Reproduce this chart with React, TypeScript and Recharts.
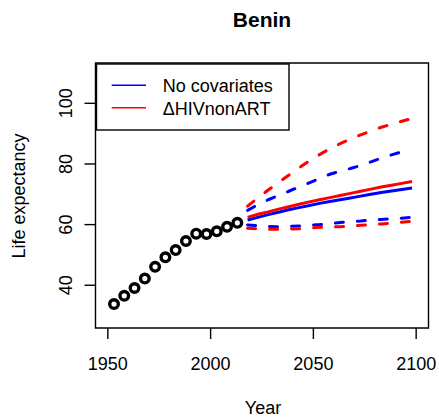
import React from 'react';
import { ComposedChart, Line, XAxis, YAxis, ReferenceArea, Customized } from 'recharts';

const FONT = '"Liberation Sans", Arial, Helvetica, sans-serif';

const obsYears = [1953, 1958, 1963, 1968, 1973, 1978, 1983, 1988, 1993, 1998, 2003, 2008, 2013];
const obsLE = [33.8, 36.5, 39.1, 42.2, 46.1, 49.2, 51.6, 54.6, 57.0, 56.9, 57.8, 59.3, 60.6];

const projYears = [2018, 2023, 2028, 2033, 2038, 2043, 2048, 2053, 2058, 2063, 2068, 2073, 2078, 2083, 2088, 2093, 2098];
const noCovMedian = [61.5, 62.4, 63.3, 64.1, 64.9, 65.6, 66.3, 67.0, 67.6, 68.2, 68.8, 69.4, 70.0, 70.6, 71.1, 71.6, 72.1];
const noCovLower = [59.9, 59.6, 59.4, 59.3, 59.4, 59.5, 59.8, 60.0, 60.3, 60.7, 61.0, 61.2, 61.5, 61.7, 61.9, 62.1, 62.4];
const noCovUpper = [64.7, 66.6, 68.2, 69.6, 71.0, 72.4, 73.8, 75.2, 76.6, 77.6, 78.5, 79.5, 80.7, 81.9, 83.0, 84.0, 85.0];
const hivMedian = [62.4, 63.4, 64.2, 65.1, 65.9, 66.7, 67.5, 68.2, 68.9, 69.6, 70.3, 71.0, 71.7, 72.4, 73.0, 73.6, 74.2];
const hivLower = [58.8, 58.6, 58.5, 58.5, 58.5, 58.6, 58.9, 59.1, 59.2, 59.3, 59.5, 59.8, 60.0, 60.2, 60.5, 60.8, 61.1];
const hivUpper = [66.1, 68.8, 71.4, 73.9, 76.3, 78.7, 81.0, 83.1, 85.0, 86.7, 88.2, 89.6, 90.9, 92.1, 93.1, 94.1, 95.0];

const xTicks = [1950, 2000, 2050, 2100];
const yTicks = [40, 60, 80, 100];
const xDomain = [1944, 2106];
const yDomain = [25.9, 113.3];

const title = 'Benin';
const xLabel = 'Year';
const yLabel = 'Life expectancy';
const legendLabels = ['No covariates', '\u0394HIVnonART'];

const BLUE = '#0000FF';
const RED = '#FF0000';

type Row = { year: number; [k: string]: number };

const data: Row[] = [
  ...obsYears.map((y, i) => ({ year: y, obs: obsLE[i] })),
  ...projYears.map((y, i) => ({
    year: y,
    ncMed: noCovMedian[i],
    ncLo: noCovLower[i],
    ncHi: noCovUpper[i],
    hivMed: hivMedian[i],
    hivLo: hivLower[i],
    hivHi: hivUpper[i],
  })),
];

const XTick = (props: any) => {
  const { x, payload } = props;
  return (
    <text x={x} y={369.5} textAnchor="middle" fontSize={18} fontFamily={FONT} fill="#000">
      {payload.value}
    </text>
  );
};

const YTick = (props: any) => {
  const { y, payload } = props;
  const bx = 71.7;
  return (
    <text
      x={bx}
      y={y}
      transform={`rotate(-90, ${bx}, ${y})`}
      textAnchor="middle"
      fontSize={18}
      fontFamily={FONT}
      fill="#000"
    >
      {payload.value}
    </text>
  );
};

const Annotations = () => (
  <g>
    <text x={262} y={26.7} textAnchor="middle" fontSize={21} fontWeight="bold" fontFamily={FONT} fill="#000">
      {title}
    </text>
    <text x={263} y={413.5} textAnchor="middle" fontSize={18} fontFamily={FONT} fill="#000">
      {xLabel}
    </text>
    <text
      x={25}
      y={196}
      transform="rotate(-90, 25, 196)"
      textAnchor="middle"
      fontSize={18}
      fontFamily={FONT}
      fill="#000"
    >
      {yLabel}
    </text>
    <rect x={96.5} y={64} width={192.5} height={66} fill="#fff" stroke="#000" strokeWidth={1.4} />
    <line x1={111.7} x2={146} y1={85.3} y2={85.3} stroke={BLUE} strokeWidth={1.4} />
    <line x1={111.7} x2={146} y1={107.7} y2={107.7} stroke={RED} strokeWidth={1.4} />
    <text x={162.7} y={92.3} fontSize={18} fontFamily={FONT} fill="#000">
      {legendLabels[0]}
    </text>
    <text x={162.7} y={115} fontSize={18} fontFamily={FONT} fill="#000">
      {legendLabels[1]}
    </text>
  </g>
);

const dash = '8 14';

export default function App() {
  return (
    <div style={{ position: 'absolute', left: 0, top: 0, width: 439, height: 420, background: '#fff' }}>
      <ComposedChart
        width={439}
        height={420}
        data={data}
        margin={{ top: 63, right: 10.5, left: 0, bottom: 0 }}
      >
        <XAxis
          dataKey="year"
          type="number"
          domain={xDomain}
          ticks={xTicks}
          allowDataOverflow
          height={92}
          axisLine={false}
          tickLine={{ stroke: '#000', strokeWidth: 1.4 }}
          tickSize={11}
          tick={<XTick />}
        />
        <YAxis
          type="number"
          domain={yDomain}
          ticks={yTicks}
          allowDataOverflow
          width={95.5}
          axisLine={false}
          tickLine={{ stroke: '#000', strokeWidth: 1.4 }}
          tickSize={11}
          tick={<YTick />}
        />
        <ReferenceArea
          x1={xDomain[0]}
          x2={xDomain[1]}
          y1={yDomain[0]}
          y2={yDomain[1]}
          fill="none"
          fillOpacity={0}
          stroke="#000"
          strokeWidth={1.4}
          ifOverflow="visible"
        />
        <Line dataKey="ncHi" stroke={BLUE} strokeWidth={3} strokeDasharray={dash} strokeLinecap="round" dot={false} isAnimationActive={false} type="linear" />
        <Line dataKey="ncLo" stroke={BLUE} strokeWidth={3} strokeDasharray={dash} strokeLinecap="round" dot={false} isAnimationActive={false} type="linear" />
        <Line dataKey="ncMed" stroke={BLUE} strokeWidth={3} dot={false} isAnimationActive={false} type="linear" />
        <Line dataKey="hivHi" stroke={RED} strokeWidth={3} strokeDasharray={dash} strokeLinecap="round" dot={false} isAnimationActive={false} type="linear" />
        <Line dataKey="hivLo" stroke={RED} strokeWidth={3} strokeDasharray={dash} strokeLinecap="round" dot={false} isAnimationActive={false} type="linear" />
        <Line dataKey="hivMed" stroke={RED} strokeWidth={3} dot={false} isAnimationActive={false} type="linear" />
        <Line
          dataKey="obs"
          stroke="none"
          isAnimationActive={false}
          dot={{ r: 4.3, stroke: '#000', strokeWidth: 3.4, fill: '#fff' }}
          activeDot={false}
        />
        <Customized component={Annotations} />
      </ComposedChart>
    </div>
  );
}
